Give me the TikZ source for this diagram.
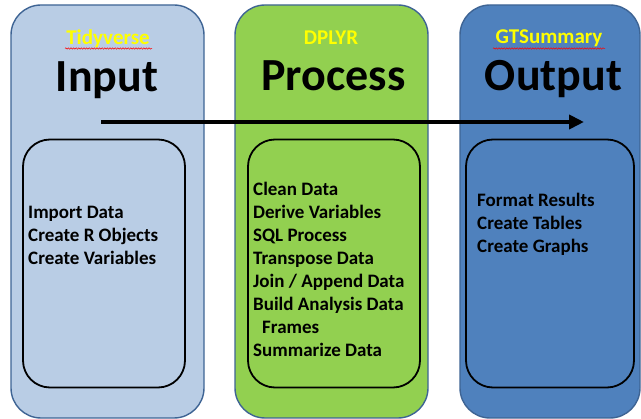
\documentclass[tikz,border=0pt]{standalone}
\usepackage{fontspec}
\setmainfont{Carlito}
\usetikzlibrary{arrows.meta,decorations.pathmorphing}
\definecolor{inputfill}{HTML}{B9CDE5}
\definecolor{processfill}{HTML}{92D050}
\definecolor{outputfill}{HTML}{4F81BD}
\definecolor{frameblue}{HTML}{3E6494}
\definecolor{toolyellow}{HTML}{FFFF00}
% stacked lines whose baseline is that of the first line
\newcommand{\linestack}[1]{\vtop{\fontsize{19}{23}\selectfont\bfseries #1}}
\newcommand{\stepline}[1]{\hbox{#1}}
\tikzset{
  stagebox/.style={draw=frameblue, line width=1.4pt, rounded corners=30pt,
    minimum height=413pt, inner sep=0pt, outer sep=0pt},
  listbox/.style={draw=black, line width=1.8pt, rounded corners=27pt,
    minimum height=248pt, inner sep=0pt, outer sep=0pt},
  toollabel/.style={text=toolyellow, font=\fontsize{21}{24}\selectfont\bfseries, inner sep=0pt, anchor=base},
  stagelabel/.style={font=\fontsize{46}{52}\selectfont\bfseries, inner sep=0pt, anchor=base},
  steps/.style={inner sep=0pt, anchor=base west},
  spellmark/.style={draw=red, line width=0.5pt, decorate,
    decoration={snake, amplitude=0.7pt, segment length=2.6pt}},
  flow/.style={line width=4.5pt, -{Triangle[length=15pt,width=14pt]}}
}
\begin{document}
\begin{tikzpicture}[x=1pt, y=-1pt]
\useasboundingbox (0,0) rectangle (641,419);

% three stage panels
\node[stagebox, fill=inputfill, minimum width=193pt] (input) at (107.5,211.5) {};
\node[stagebox, fill=processfill, minimum width=193pt] (process) at (331.5,211.5) {};
\node[stagebox, fill=outputfill, minimum width=180pt] (output) at (550,211.5) {};

% inner lists
\node[listbox, minimum width=162pt] (inlist) at (104,263.5) {};
\node[listbox, minimum width=172pt] (proclist) at (334,263.5) {};
\node[listbox, minimum width=168pt] (outlist) at (550,263.5) {};

% tool names
\node[toollabel] (tidy) at (108,45) {Tidyverse};
\node[toollabel] (dplyr) at (331,45) {DPLYR};
\node[toollabel] (gts) at (549,44) {GTSummary};
\draw[spellmark] (65,48.5) -- (152,48.5);
\draw[spellmark] (493,48.5) -- (605,48.5);

% stage titles
\node[stagelabel] (tin) at (107,92) {Input};
\node[stagelabel] (tproc) at (333.5,91) {Process};
\node[stagelabel] (tout) at (553.5,91) {Output};

% step lists
\node[steps] (instep) at (28,219) {\linestack{\stepline{Import Data}\stepline{Create R Objects}\stepline{Create Variables}}};
\node[steps] (procstep) at (253,196) {\linestack{\stepline{Clean Data}\stepline{Derive Variables}\stepline{SQL Process}\stepline{Transpose Data}\stepline{Join / Append Data}\stepline{Build Analysis Data}\stepline{\hspace*{9pt}Frames}\stepline{Summarize Data}}};
\node[steps] (outstep) at (477,207) {\linestack{\stepline{Format Results}\stepline{Create Tables}\stepline{Create Graphs}}};

% flow arrow
\coordinate (flowstart) at (101,122);
\coordinate (flowend) at (584,122);
\draw[flow] (flowstart) -- (flowend);
\end{tikzpicture}
\end{document}
